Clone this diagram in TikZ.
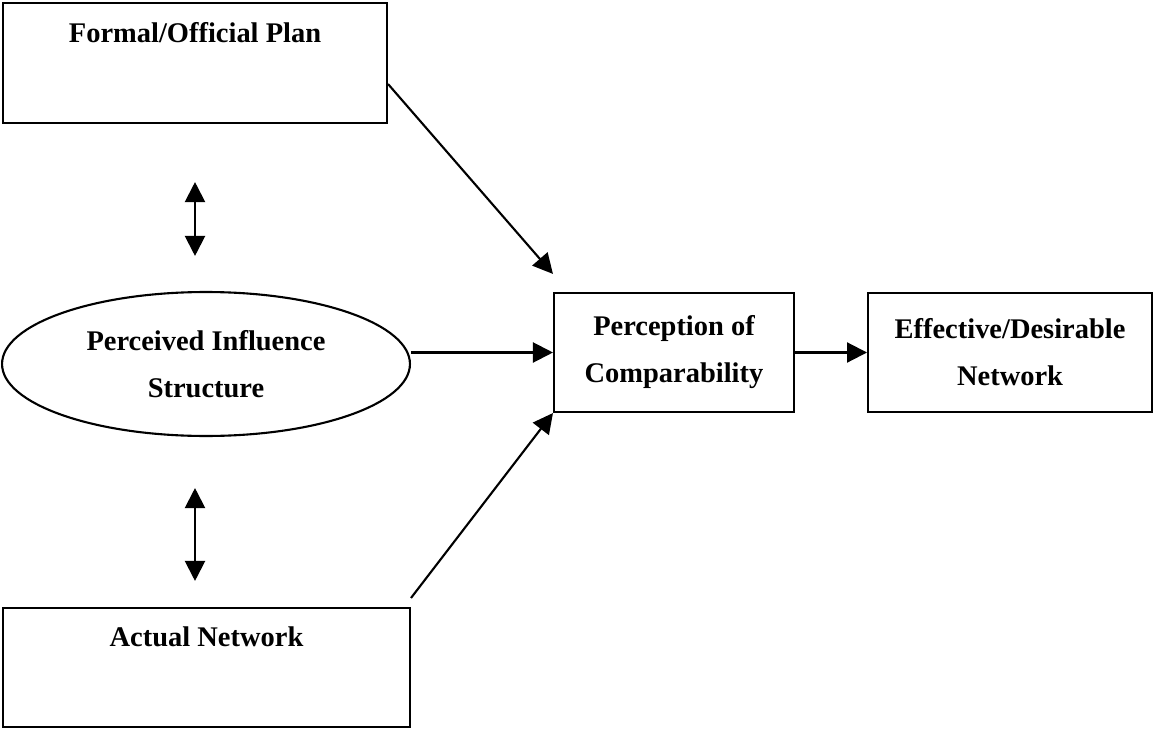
\documentclass[tikz,border=0pt]{standalone}
\usepackage{fontspec}
\setmainfont{Liberation Serif}
\usepackage{tikz}
\usetikzlibrary{
    arrows.meta,
    positioning,
    shapes.geometric,
    calc
}

\begin{document}
\begin{tikzpicture}[
x=0.02cm, y=-0.02cm,
line width=1.2pt,
box/.style={
draw,
minimum width=4.8cm,
minimum height=2.38cm,
inner sep=0pt,
align=center,
font=\fontsize{16.2}{26.7}\selectfont\bfseries
},
oval/.style={
box,
ellipse,
minimum width=8.16cm,
minimum height=2.88cm
},
link/.style={-{Triangle[length=0.4cm,width=0.4cm]}},
both/.style={{Triangle[length=0.4cm,width=0.4cm]}-{Triangle[length=0.4cm,width=0.4cm]}}
]

\useasboundingbox (0,0) rectangle (1154,730);

\node[box, minimum width=7.68cm, minimum height=2.4cm] (plan)
at (195,63) {Formal/Official Plan\\ \strut};

\node[oval] (infl)
at (206,364) {Perceived Influence\\Structure};

\node[box, minimum width=8.14cm] (actual)
at (206.5,667.5) {Actual Network\\ \strut};

\node[box] (percep)
at (674,352.5) {Perception of\\Comparability};

\node[box, minimum width=5.68cm,
right=1.44cm of percep] (effect)
{Effective/Desirable\\Network};

\draw[link]
([yshift=-0.42cm]plan.east) -- ([yshift=0.36cm]percep.north west);

\draw[link]
(infl.east |- percep.west) -- (percep.west);

\draw[link]
([yshift=0.18cm]actual.north east) -- (percep.south west);

\draw[link]
(percep) -- (effect);

\draw[both]
($(plan.south)+(0,58)$) -- ($(infl.north -| plan.south)+(0,-35)$);

\draw[both]
($(infl.south -| plan.south)+(0,51)$) -- ($(actual.north -| plan.south)+(0,-26)$);

\end{tikzpicture}
\end{document}
